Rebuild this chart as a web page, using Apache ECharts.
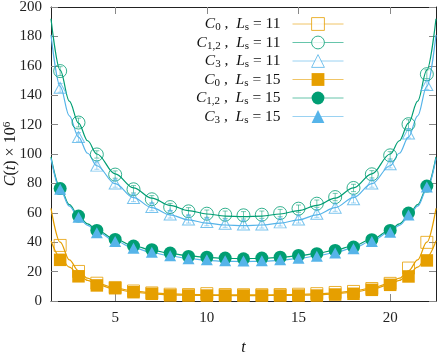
<!DOCTYPE html>
<html>
<head>
<meta charset="utf-8">
<title>C(t)</title>
<script src="https://cdn.jsdelivr.net/npm/echarts@6/dist/echarts.min.js"></script>
<style>
html,body{margin:0;padding:0;background:#fff;}
#main{width:437px;height:353px;}
</style>
</head>
<body>
<div id="main"></div>
<script>
// time slices
var tValues = [2,3,4,5,6,7,8,9,10,11,12,13,14,15,16,17,18,19,20,21,22];

// Ls = 11 (open symbols)
var c0Ls11  = [37.8,20.1,12.1,9.2,6.8,5.5,4.6,4.4,5.0,4.4,4.3,4.3,4.4,4.6,5.0,5.8,6.5,8.5,12.0,22.4,39.9];
var c12Ls11 = [156.4,121.4,99.7,86.0,76.0,69.2,63.9,61.0,59.4,58.7,58.3,58.7,59.8,62.8,66.2,70.7,76.9,86.2,99.1,120.3,154.3];
var c3Ls11  = [145.0,111.6,92.1,79.9,70.1,63.9,58.9,55.5,53.7,52.6,52.1,52.1,53.5,55.5,59.4,63.5,69.2,79.9,93.0,113.9,146.9];
var errC12Ls11 = [3,3,2.5,2.5,2.5,2.5,2.5,2.5,2.5,2.5,2.5,2.5,2.5,2.5,2.5,2.5,2.5,2.5,2.5,3,3];
var errC3Ls11  = [3,3,2.5,2.5,2.5,2.5,2.5,2.5,2.5,2.5,2.5,2.5,2.5,2.5,2.5,2.5,2.5,2.5,2.5,3,3];

// Ls = 15 (filled symbols)
var c0Ls15  = [28.0,16.8,10.6,8.7,6.0,4.9,3.8,3.7,3.7,3.7,3.7,3.7,3.7,3.7,3.7,4.4,4.9,7.6,11.0,16.7,27.6];
var c12Ls15 = [76.5,57.8,48.0,41.9,37.4,34.9,32.6,30.3,29.8,29.2,28.7,29.2,29.8,31.0,32.2,34.4,36.7,41.7,48.0,59.8,78.2];
var c3Ls15  = [76.0,57.0,46.5,40.5,35.8,33.2,30.8,28.8,28.0,27.4,27.2,27.4,28.0,29.0,30.5,32.6,35.5,40.5,46.8,58.5,77.5];

// fit curves
var fitT = [1.5,2,2.5,3,3.5,4,5,6,7,8,9,10,11,12,13,14,15,16,17,18,19,20,20.5,21,21.5,22,22.5];
var fitC0Ls11  = [63,40,28,20.5,15.5,12.2,8.8,6.8,5.6,4.9,4.5,4.3,4.2,4.2,4.2,4.3,4.5,4.9,5.6,6.8,8.8,12.2,15.5,20.5,28,40,63];
var fitC12Ls11 = [192,157,136,121,109,100,86.5,77,70,65,61.5,59.2,57.8,57.4,57.8,59.2,61.5,65,70,77,86.5,100,109,121,136,157,192];
var fitC3Ls11  = [181,146,126,111.5,100.5,92,79.8,70.3,63.5,58.6,55.2,53,51.7,51.3,51.7,53,55.2,58.6,63.5,70.3,79.8,92,100.5,111.5,126,146,181];
var fitC0Ls15  = [41,30,23,18,14,11.2,8.0,6.0,4.9,4.2,3.9,3.75,3.7,3.7,3.7,3.75,3.9,4.2,4.9,6.0,8.0,11.2,14,18,23,30,41];
var fitC12Ls15 = [98,77,65.5,58,52.5,48.2,42,37.6,34.6,32.4,30.8,29.7,29,28.8,29,29.7,30.8,32.4,34.6,37.6,42,48.2,52.5,58,65.5,77,98];
var fitC3Ls15  = [97,76,64.5,57,51.5,47.2,40.8,36.2,33,30.6,28.9,27.7,27,26.8,27,27.7,28.9,30.6,33,36.2,40.8,47.2,51.5,57,64.5,76,97];

// axes
var xTicks = [5,10,15,20];

// legend
var legendNames = ['c0_11','c12_11','c3_11','c0_15','c12_15','c3_15'];
var legendLabels = [
    '{i|C}{sub|0}{n| ,  }{i|L}{sub|s}{n| = 11}',
    '{i|C}{sub|1,2}{n| ,  }{i|L}{sub|s}{n| = 11}',
    '{i|C}{sub|3}{n| ,  }{i|L}{sub|s}{n| = 11}',
    '{i|C}{sub|0}{n| ,  }{i|L}{sub|s}{n| = 15}',
    '{i|C}{sub|1,2}{n| ,  }{i|L}{sub|s}{n| = 15}',
    '{i|C}{sub|3}{n| ,  }{i|L}{sub|s}{n| = 15}'
];

var font = 'Liberation Serif';
var orange = '#E69F00', green = '#009E73', blue = '#56B4E9';

function pairs(xs, ys){
    var out = [];
    for(var i=0;i<xs.length;i++){
        out.push([xs[i], ys[i]]);
    }
    return out;
}

function fitSeries(values, color){
    return {
        type:'line',
        data:pairs(fitT, values),
        symbol:'none',
        smooth:0.35,
        smoothMonotone:'x',
        silent:true,
        z:2,
        lineStyle:{color:color, width:1.2}
    };
}

function pointSeries(name, values, symbol, size, color, open){
    return {
        name:name,
        type:'line',
        data:pairs(tValues, values),
        symbol:symbol,
        symbolSize:size,
        showSymbol:true,
        showAllSymbol:true,
        silent:true,
        z:4,
        lineStyle:{width:0, opacity:0},
        itemStyle: open ? {color:'rgba(255,255,255,0)', borderColor:color, borderWidth:1, opacity:0.8}
                        : {color:color}
    };
}

/*误差棒*/
function errorSeries(values, errs, color){
    var data = [];
    for(var i=0;i<tValues.length;i++){
        data.push([tValues[i], values[i]-errs[i], values[i]+errs[i]]);
    }
    return {
        type:'custom',
        data:data,
        silent:true,
        z:3,
        encode:{x:0, y:[1,2]},
        renderItem:function(params, api){
            var lo = api.coord([api.value(0), api.value(1)]);
            var hi = api.coord([api.value(0), api.value(2)]);
            var w = 2.5;
            var st = {stroke:color, lineWidth:1, opacity:0.55};
            return {type:'group', children:[
                {type:'line', shape:{x1:lo[0], y1:lo[1], x2:hi[0], y2:hi[1]}, style:st},
                {type:'line', shape:{x1:hi[0]-w, y1:hi[1], x2:hi[0]+w, y2:hi[1]}, style:st},
                {type:'line', shape:{x1:lo[0]-w, y1:lo[1], x2:lo[0]+w, y2:lo[1]}, style:st}
            ]};
        }
    };
}

function legendItem(name, color, open){
    return {
        name:name,
        itemStyle: open ? {color:'#fff', borderColor:color, borderWidth:1, opacity:0.8} : {color:color, borderWidth:0},
        lineStyle:{color:color, width:1, opacity:0.6}
    };
}

var myChart = echarts.init(document.getElementById('main'));

var axisLineStyle = {color:'#222', width:1};
var tickStyle = {color:'#888', width:1};

var option = {
    animation:false,
    backgroundColor:'#fff',
    grid:{left:51, right:1, top:7, bottom:52, outerBoundsMode:'none'},
    legend:{
        orient:'vertical',
        right:93,
        top:16,
        padding:0,
        itemWidth:51,
        itemHeight:16,
        itemGap:1.5,
        align:'right',
        selectedMode:false,
        data:[
            legendItem(legendNames[0], orange, true),
            legendItem(legendNames[1], green, true),
            legendItem(legendNames[2], blue, true),
            legendItem(legendNames[3], orange, false),
            legendItem(legendNames[4], green, false),
            legendItem(legendNames[5], blue, false)
        ],
        formatter:function(name){
            return legendLabels[legendNames.indexOf(name)];
        },
        textStyle:{
            fontFamily:font,
            fontSize:15,
            color:'#111',
            padding:[0,7,0,0],
            rich:{
                i:{fontFamily:font, fontStyle:'italic', fontSize:15.5, lineHeight:18, color:'#111'},
                n:{fontFamily:font, fontSize:15.5, lineHeight:18, color:'#111'},
                sub:{fontFamily:font, fontSize:11, lineHeight:8, verticalAlign:'bottom', color:'#111'}
            }
        }
    },
    xAxis:[{
        type:'value',
        min:1.5,
        max:22.5,
        position:'bottom',
        name:'t',
        nameLocation:'middle',
        nameGap:39,
        nameMoveOverlap:false,
        nameTextStyle:{fontFamily:font, fontStyle:'italic', fontSize:16, color:'#111'},
        axisLine:{show:true, onZero:false, lineStyle:axisLineStyle},
        axisTick:{show:true, inside:true, length:7, customValues:xTicks, lineStyle:tickStyle},
        axisLabel:{customValues:xTicks, margin:10, fontFamily:font, fontSize:15, color:'#222'},
        splitLine:{show:false}
    },{
        type:'value',
        min:1.5,
        max:22.5,
        position:'top',
        axisLine:{show:true, onZero:false, lineStyle:axisLineStyle},
        axisTick:{show:true, inside:true, length:7, customValues:xTicks, lineStyle:tickStyle},
        axisLabel:{show:false},
        splitLine:{show:false}
    }],
    yAxis:[{
        type:'value',
        min:0,
        max:200,
        interval:20,
        position:'left',
        name:'{i|C}{n|(}{i|t}{n|) × 10}{sup|6}',
        nameLocation:'middle',
        nameRotate:90,
        nameGap:31,
        nameMoveOverlap:false,
        nameTextStyle:{
            fontFamily:font, fontSize:16, color:'#111',
            rich:{
                i:{fontFamily:font, fontStyle:'italic', fontSize:16, lineHeight:18, color:'#111'},
                n:{fontFamily:font, fontSize:16, lineHeight:18, color:'#111'},
                sup:{fontFamily:font, fontSize:11, lineHeight:8, verticalAlign:'top', color:'#111'}
            }
        },
        axisLine:{show:true, onZero:false, lineStyle:axisLineStyle},
        axisTick:{show:true, inside:true, length:7, lineStyle:tickStyle},
        axisLabel:{margin:9, fontFamily:font, fontSize:15, color:'#222'},
        splitLine:{show:false}
    },{
        type:'value',
        min:0,
        max:200,
        interval:20,
        position:'right',
        axisLine:{show:true, onZero:false, lineStyle:axisLineStyle},
        axisTick:{show:true, inside:true, length:7, lineStyle:tickStyle},
        axisLabel:{show:false},
        splitLine:{show:false}
    }],
    series:[
        fitSeries(fitC0Ls11, orange),
        fitSeries(fitC12Ls11, green),
        fitSeries(fitC3Ls11, blue),
        fitSeries(fitC0Ls15, orange),
        fitSeries(fitC12Ls15, green),
        fitSeries(fitC3Ls15, blue),
        errorSeries(c12Ls11, errC12Ls11, green),
        errorSeries(c3Ls11, errC3Ls11, blue),
        pointSeries(legendNames[0], c0Ls11, 'rect', 12, orange, true),
        pointSeries(legendNames[1], c12Ls11, 'circle', 13, green, true),
        pointSeries(legendNames[2], c3Ls11, 'triangle', [12,11], blue, true),
        pointSeries(legendNames[3], c0Ls15, 'rect', 12.5, orange, false),
        pointSeries(legendNames[4], c12Ls15, 'circle', 13, green, false),
        pointSeries(legendNames[5], c3Ls15, 'triangle', [12,11], blue, false)
    ]
};
myChart.setOption(option, true);
</script>
</body>
</html>
